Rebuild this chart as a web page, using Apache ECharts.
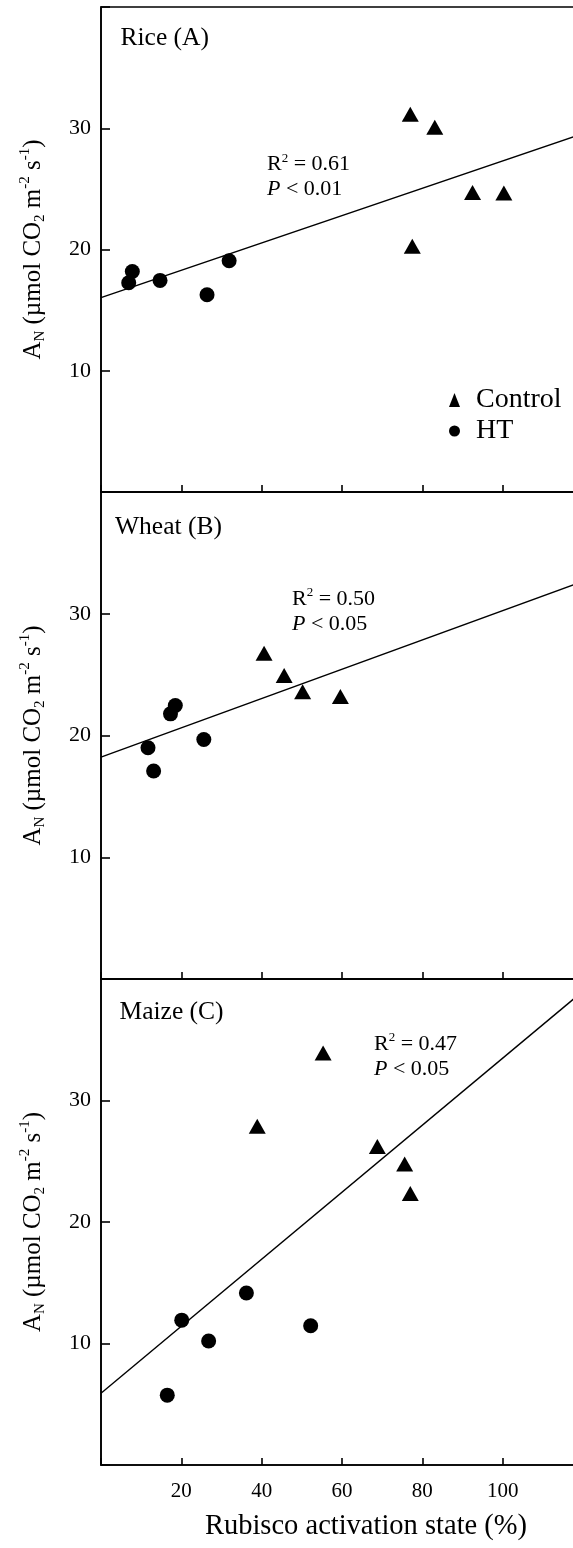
<!DOCTYPE html>
<html>
<head>
<meta charset="utf-8">
<script src="https://cdn.jsdelivr.net/npm/echarts@6/dist/echarts.min.js"></script>
<style>
  html, body { margin: 0; padding: 0; background: #fff; }
  #chart { width: 573px; height: 1548px; }
</style>
</head>
<body>
<div id="chart"></div>
<script>
// Panel titles
const panelTitles = ['Rice (A)', 'Wheat (B)', 'Maize (C)'];

// [Rubisco activation state (%), A_N]
const riceControl = [[77.0, 31.15], [83.1, 30.08], [92.5, 24.7], [100.3, 24.66], [77.5, 20.27]];
const riceHT = [[6.9, 17.26], [7.8, 18.19], [14.7, 17.45], [26.4, 16.27], [31.9, 19.07]];
const riceFit = [[0, 16.03], [120, 29.55]];

const wheatControl = [[40.6, 26.75], [45.6, 24.92], [50.2, 23.6], [59.6, 23.2]];
const wheatHT = [[11.7, 18.99], [13.1, 17.08], [17.3, 21.78], [18.5, 22.46], [25.6, 19.67]];
const wheatFit = [[0, 18.22], [120, 32.66]];

const maizeControl = [[55.3, 33.9], [38.9, 27.88], [68.8, 26.21], [75.6, 24.78], [77.0, 22.34]];
const maizeHT = [[16.5, 5.75], [20.1, 11.92], [26.8, 10.2], [36.2, 14.16], [52.2, 11.46]];
const maizeFit = [[0, 5.9], [120, 39.0]];

// Regression statistics: R squared and P threshold
const rSquared = ['0.61', '0.50', '0.47'];
const pValues = ['0.01', '0.05', '0.05'];

// Tick labels
const xTickLabels = [20, 40, 60, 80, 100];
const yTickLabels = [10, 20, 30];

const controlSets = [riceControl, wheatControl, maizeControl];
const htSets = [riceHT, wheatHT, maizeHT];
const fitSets = [riceFit, wheatFit, maizeFit];

const FONT = "'Liberation Serif', 'Times New Roman', serif";
const INK = '#000';

// Layout of the three stacked panels (pixels); the x range runs past the right edge
const gridBoxes = [
  { left: 101, top: 7, width: 482, height: 485 },
  { left: 101, top: 492, width: 482, height: 487 },
  { left: 101, top: 979, width: 482, height: 486 }
];
const titlePos = [
  { left: 120.5, top: 23 },
  { left: 115, top: 512 },
  { left: 119.5, top: 997 }
];
const statPos = [
  { left: 267, top: 152 },
  { left: 292, top: 586.5 },
  { left: 374, top: 1031.5 }
];

const yName = '{a|A}{sub|N}{a| (\u00b5mol CO}{sub|2}{a| m}{sup|-2}{a| s}{sup|-1}{a|)}';

const grids = gridBoxes.map(b => Object.assign({
  show: true, borderColor: INK, borderWidth: 1.6, backgroundColor: 'transparent',
  containLabel: false, outerBoundsMode: 'none'
}, b));

const xAxes = gridBoxes.map((b, i) => ({
  gridIndex: i,
  type: 'value',
  min: 0, max: 120, interval: 20,
  axisLine: { show: true, onZero: false, lineStyle: { color: INK, width: 1.6 } },
  axisTick: { show: true, inside: true, length: 7, lineStyle: { color: INK, width: 1.6 } },
  axisLabel: {
    show: i === 2,
    margin: 16,
    color: INK, fontFamily: FONT, fontSize: 21,
    formatter: v => (xTickLabels.includes(v) ? String(v) : '')
  },
  splitLine: { show: false },
  name: i === 2 ? 'Rubisco activation state (%)' : '',
  nameLocation: 'middle',
  nameGap: 47,
  nameTextStyle: { color: INK, fontFamily: FONT, fontSize: 28.5, padding: [0, 0, 0, 48] }
}));

const yAxes = gridBoxes.map((b, i) => ({
  gridIndex: i,
  type: 'value',
  min: 0, max: 40, interval: 10,
  axisLine: { show: true, onZero: false, lineStyle: { color: INK, width: 1.6 } },
  axisTick: { show: true, inside: true, length: 9, lineStyle: { color: INK, width: 1.6 } },
  axisLabel: {
    margin: 10,
    color: INK, fontFamily: FONT, fontSize: 22,
    formatter: v => (yTickLabels.includes(v) ? String(v) : '')
  },
  splitLine: { show: false },
  name: yName,
  nameLocation: 'middle',
  nameGap: 53,
  nameTextStyle: {
    color: INK,
    rich: {
      a: { fontFamily: FONT, fontSize: 25, lineHeight: 30, color: INK, verticalAlign: 'middle' },
      sub: { fontFamily: FONT, fontSize: 15, lineHeight: 16, color: INK, verticalAlign: 'bottom' },
      sup: { fontFamily: FONT, fontSize: 15, lineHeight: 16, color: INK, verticalAlign: 'top' }
    }
  }
}));

const series = [];
for (let i = 0; i < 3; i++) {
  series.push({
    name: 'Fit', type: 'line', xAxisIndex: i, yAxisIndex: i,
    data: fitSets[i], showSymbol: false, symbol: 'none', silent: true, clip: true,
    lineStyle: { color: INK, width: 1.4 }, z: 2
  });
  series.push({
    name: 'Control', type: 'scatter', xAxisIndex: i, yAxisIndex: i,
    data: controlSets[i], symbol: 'triangle', symbolSize: [17, 15],
    itemStyle: { color: INK, opacity: 1 }, z: 3
  });
  series.push({
    name: 'HT', type: 'scatter', xAxisIndex: i, yAxisIndex: i,
    data: htSets[i], symbol: 'circle', symbolSize: 15,
    itemStyle: { color: INK, opacity: 1 }, z: 3
  });
}

const titles = [];
for (let i = 0; i < 3; i++) {
  titles.push({
    text: panelTitles[i],
    left: titlePos[i].left, top: titlePos[i].top, padding: 0,
    textStyle: { color: INK, fontFamily: FONT, fontSize: 25.5, fontWeight: 'normal', lineHeight: 30 }
  });
  titles.push({
    text: '{r|R}{sup|2}{r| = ' + rSquared[i] + '}\n{it|P}{r| < ' + pValues[i] + '}',
    left: statPos[i].left, top: statPos[i].top, padding: 0,
    textStyle: {
      color: INK, fontFamily: FONT, fontSize: 22, fontWeight: 'normal', lineHeight: 25,
      rich: {
        r: { fontFamily: FONT, fontSize: 22, lineHeight: 25, color: INK },
        it: { fontFamily: FONT, fontSize: 22, lineHeight: 25, color: INK, fontStyle: 'italic' },
        sup: { fontFamily: FONT, fontSize: 13, lineHeight: 13, color: INK, verticalAlign: 'top' }
      }
    }
  });
}

const chart = echarts.init(document.getElementById('chart'), null, { renderer: 'canvas' });
chart.setOption({
  backgroundColor: '#fff',
  animation: false,
  title: titles,
  legend: {
    show: true,
    orient: 'vertical',
    left: 444, top: 381,
    itemWidth: 11, itemHeight: 14, itemGap: 3,
    selectedMode: false,
    data: [{ name: 'Control', icon: 'triangle' }, { name: 'HT', icon: 'circle' }],
    itemStyle: { color: INK },
    textStyle: { color: INK, fontFamily: FONT, fontSize: 28, padding: [0, 0, 0, 11] }
  },
  grid: grids,
  xAxis: xAxes,
  yAxis: yAxes,
  series: series
});
</script>
</body>
</html>
